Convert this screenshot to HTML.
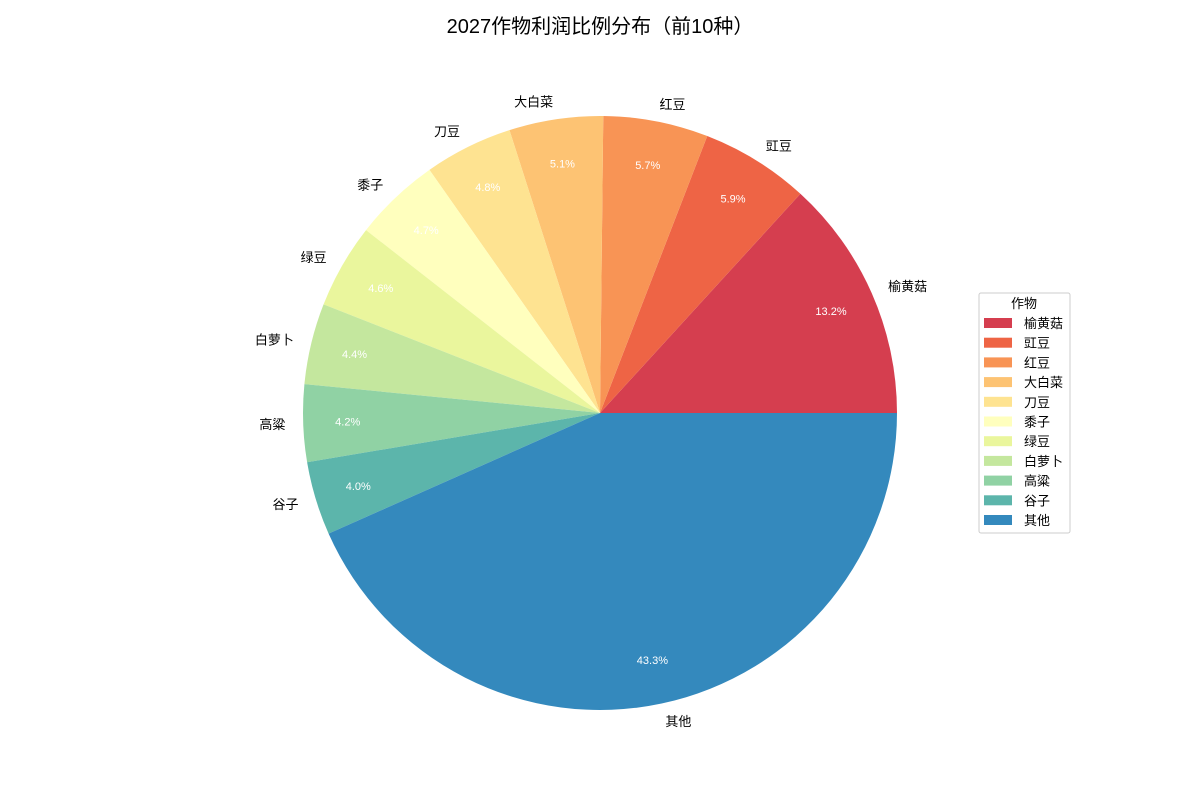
<!DOCTYPE html>
<html><head><meta charset="utf-8"><style>
html,body{margin:0;padding:0;background:#fff;}
svg text{font-family:"Liberation Sans","Noto Sans CJK SC",sans-serif;}
</style></head><body>
<svg id="chart" width="1200" height="800" xmlns="http://www.w3.org/2000/svg">
<text x="600" y="33" text-anchor="middle" font-size="20" fill="#000">2027作物利润比例分布（前10种）</text>
<g id="slices"></g>
<g id="legend">
<rect x="979" y="293" width="91" height="240" fill="#fff" stroke="#ccc" rx="2"/>
<text x="1024" y="308" text-anchor="middle" font-size="13" fill="#000">作物</text>
</g>
</svg>
<script>
const categories=["榆黄菇","豇豆","红豆","大白菜","刀豆","黍子","绿豆","白萝卜","高粱","谷子","其他"];
const values=[13.2,5.9,5.7,5.1,4.8,4.7,4.6,4.4,4.2,4.0,43.3];
const colors=["#d53e4f","#ee6445","#f89455","#fdc373","#fee391","#ffffbe","#eaf69d","#c4e79e","#90d2a4","#5cb5ab","#3489bd"];
const NS="http://www.w3.org/2000/svg";
const cx=600,cy=413,r=297;
const total=values.reduce((a,b)=>a+b,0);
const g=document.getElementById('slices');
let a0=0;
function pt(rad,ang){return [cx+rad*Math.cos(ang),cy-rad*Math.sin(ang)];}
values.forEach((v,i)=>{
  const a1=a0+v/total*2*Math.PI;
  const p0=pt(r,a0),p1=pt(r,a1);
  const large=(a1-a0)>Math.PI?1:0;
  const path=document.createElementNS(NS,'path');
  path.setAttribute('d',`M${cx},${cy} L${p0[0]},${p0[1]} A${r},${r} 0 ${large} 0 ${p1[0]},${p1[1]} Z`);
  path.setAttribute('fill',colors[i]);
  
  
  g.appendChild(path);
  const mid=(a0+a1)/2;
  const lp=pt(r*1.06,mid);
  const t=document.createElementNS(NS,'text');
  t.setAttribute('x',lp[0]);t.setAttribute('y',lp[1]+5);
  t.setAttribute('font-size','13');
  t.setAttribute('text-anchor',Math.cos(mid)>0.05?'start':(Math.cos(mid)<-0.05?'end':'middle'));
  t.textContent=categories[i];
  
  
  g.appendChild(t);
  const pp=pt(r*0.85,mid);
  const tp=document.createElementNS(NS,'text');
  tp.setAttribute('x',pp[0]);tp.setAttribute('y',pp[1]+4);
  tp.setAttribute('font-size','11');tp.setAttribute('fill','#fff');
  tp.setAttribute('font-family','"Liberation Mono",monospace');
  tp.setAttribute('text-anchor','middle');
  tp.textContent=v.toFixed(1)+'%';
  
  
  g.appendChild(tp);
  a0=a1;
});
const lg=document.getElementById('legend');
categories.forEach((c,i)=>{
  const y=318+i*19.7;
  const rc=document.createElementNS(NS,'rect');
  rc.setAttribute('x',984);rc.setAttribute('y',y);rc.setAttribute('width',28);rc.setAttribute('height',10);
  rc.setAttribute('fill',colors[i]);
  
  
  lg.appendChild(rc);
  const t=document.createElementNS(NS,'text');
  t.setAttribute('x',1024);t.setAttribute('y',y+10);t.setAttribute('font-size','13');
  t.textContent=c;
  
  
  lg.appendChild(t);
});
</script>
</body></html>
